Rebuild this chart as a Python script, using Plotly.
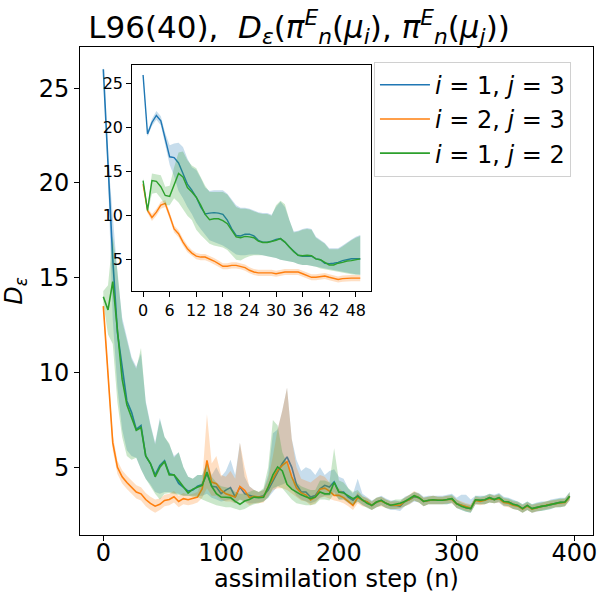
import plotly.graph_objects as go

# ================= inset data (every step, 0..49) =================
inset_steps = list(range(50))

blue_in = [26.0, 19.3, 20.6, 21.4, 20.8, 18.75, 16.7, 16.6, 16.0, 14.8,
           13.6, 12.9, 12.1, 11.0, 10.2, 10.3, 10.35, 10.3, 10.15, 9.5,
           8.5, 7.75, 7.7, 7.9, 7.9, 7.7, 7.2, 7.0, 7.0, 7.1,
           7.3, 7.4, 7.0, 6.45, 5.95, 5.5, 5.4, 5.4, 5.4, 5.1,
           5.0, 4.6, 4.55, 4.6, 4.7, 4.9, 5.0, 5.1, 5.1, 5.1]
blue_in_hi = [26.2, 19.6, 21.0, 21.9, 21.3, 19.4, 18.0, 18.2, 18.3, 17.8,
              16.5, 15.5, 15.2, 14.3, 13.2, 12.8, 12.9, 12.9, 12.9, 12.5,
              11.9, 11.2, 10.9, 10.9, 10.8, 10.6, 10.4, 10.3, 10.3, 10.1,
              11.0, 11.6, 11.0, 9.5, 8.2, 8.3, 8.5, 8.6, 8.5, 7.6,
              7.3, 6.9, 6.3, 6.3, 6.3, 6.6, 7.0, 7.3, 7.6, 7.8]
blue_in_lo = [25.8, 19.0, 20.2, 20.9, 20.3, 18.2, 15.8, 14.5, 12.8, 12.0,
              11.0, 10.2, 9.2, 8.5, 7.8, 7.2, 7.0, 6.8, 6.6, 6.3,
              5.9, 5.6, 5.5, 5.5, 5.6, 5.6, 5.6, 5.5, 5.4, 5.3,
              5.2, 5.0, 4.9, 4.8, 4.7, 4.5, 4.4, 4.4, 4.3, 4.2,
              4.1, 4.0, 3.9, 3.8, 3.7, 3.6, 3.5, 3.4, 3.35, 3.3]

orange_in = [13.6, 10.6, 9.8, 10.4, 11.2, 11.4, 10.0, 8.5, 7.95, 7.0,
             6.25, 5.75, 5.4, 5.3, 5.3, 5.1, 4.85, 4.55, 4.25, 4.25,
             4.35, 4.35, 4.25, 4.1, 3.8, 3.6, 3.5, 3.5, 3.5, 3.5,
             3.4, 3.5, 3.6, 3.6, 3.6, 3.6, 3.4, 3.2, 3.0, 3.0,
             3.1, 3.15, 3.0, 2.85, 2.75, 2.85, 2.9, 2.9, 2.9, 2.9]
orange_in_hi = [13.9, 10.9, 10.2, 10.8, 11.6, 11.8, 10.4, 8.9, 8.35, 7.4,
                6.65, 6.1, 5.75, 5.65, 5.65, 5.45, 5.2, 4.9, 4.6, 4.6,
                4.7, 4.7, 4.6, 4.45, 4.15, 3.95, 3.85, 3.85, 3.85, 3.85,
                3.75, 3.85, 3.95, 3.95, 3.95, 3.95, 3.75, 3.55, 3.35, 3.35,
                3.45, 3.5, 3.35, 3.2, 3.1, 3.2, 3.25, 3.25, 3.25, 3.25]
orange_in_lo = [13.3, 10.3, 9.4, 10.0, 10.8, 11.0, 9.6, 8.1, 7.55, 6.6,
                5.85, 5.4, 5.05, 4.95, 4.95, 4.75, 4.5, 4.2, 3.9, 3.9,
                4.0, 4.0, 3.9, 3.75, 3.45, 3.25, 3.15, 3.15, 3.15, 3.15,
                3.05, 3.15, 3.25, 3.25, 3.25, 3.25, 3.05, 2.85, 2.65, 2.65,
                2.75, 2.8, 2.65, 2.5, 2.4, 2.5, 2.55, 2.55, 2.55, 2.55]

green_in = [14.0, 10.6, 14.0, 13.9, 13.3, 12.3, 12.2, 13.6, 14.8, 14.4,
            13.2, 12.7, 12.1, 11.2, 10.15, 9.55, 9.65, 9.65, 9.45, 9.1,
            8.3, 7.6, 7.5, 7.65, 7.6, 7.5, 7.1, 6.95, 6.95, 7.05,
            7.2, 7.4, 7.0, 6.45, 5.9, 5.5, 5.45, 5.5, 5.45, 5.1,
            5.0, 4.7, 4.4, 4.4, 4.6, 4.7, 4.85, 4.9, 5.0, 5.1]
green_in_hi = [14.3, 10.9, 14.8, 14.7, 14.6, 13.3, 13.4, 15.5, 17.2, 17.3,
               16.3, 15.7, 15.4, 14.4, 13.4, 12.7, 12.7, 12.7, 12.7, 12.4,
               11.7, 11.0, 10.8, 10.8, 10.7, 10.5, 10.3, 10.2, 10.2, 10.0,
               11.2, 11.7, 11.3, 9.5, 8.1, 8.2, 8.4, 8.5, 8.4, 7.5,
               7.2, 6.8, 6.2, 6.2, 6.2, 6.5, 6.9, 7.2, 7.5, 7.7]
green_in_lo = [13.7, 10.3, 12.5, 12.6, 12.0, 11.2, 11.2, 12.0, 11.5, 10.8,
               10.0, 9.5, 8.4, 7.8, 7.3, 6.8, 6.6, 6.5, 6.4, 6.1,
               5.6, 5.0, 4.9, 5.2, 5.4, 5.5, 5.5, 5.5, 5.4, 5.3,
               5.2, 5.0, 4.9, 4.8, 4.7, 4.5, 4.4, 4.4, 4.3, 4.2,
               4.0, 3.9, 3.8, 3.7, 3.6, 3.5, 3.4, 3.35, 3.3, 3.3]

# ================= main-plot data (every 4th step, 0..396) =================
main_steps = list(range(0, 397, 4))

blue_main = [26.0, 20.8, 16.0, 12.1, 10.3, 8.5, 7.9, 7.0, 7.2, 5.6,
             5.2, 4.6, 5.1, 5.35, 4.66, 4.6, 4.15, 3.96, 3.75, 3.8,
             4.0, 4.1, 4.66, 4.0, 3.96, 3.61, 3.8, 3.93, 3.43, 3.96,
             3.61, 3.52, 3.45, 3.43, 3.5, 3.8, 4.3, 4.75, 5.2, 5.55,
             5.0, 4.1, 3.7, 3.7, 3.43, 3.52, 3.87, 4.05, 3.96, 4.23,
             3.7, 3.7, 3.43, 3.26, 3.52, 3.26, 3.17, 2.99, 3.17, 3.26,
             3.1, 2.99, 3.0, 2.95, 3.2, 3.3, 3.45, 3.4, 3.2, 3.26,
             3.29, 3.26, 3.26, 3.3, 3.35, 3.08, 3.0, 2.87, 2.82, 3.29,
             3.26, 3.29, 3.4, 3.3, 3.4, 3.2, 3.17, 3.05, 2.99, 2.82,
             2.99, 2.82, 2.9, 2.94, 2.98, 3.05, 3.1, 3.15, 3.17, 3.47]
blue_main_hi = [26.2, 21.3, 18.3, 15.2, 12.9, 11.9, 10.8, 10.3, 11.0, 8.5,
                7.3, 6.3, 7.6, 6.6, 6.2, 5.6, 5.8, 5.0, 4.5, 4.4,
                4.6, 4.6, 5.3, 4.6, 5.0, 4.5, 4.8, 5.4, 4.6, 6.3,
                4.5, 4.0, 3.8, 3.7, 3.8, 4.6, 6.8, 7.0, 8.0, 9.2,
                6.5, 5.4, 4.8, 5.0, 4.9, 4.6, 5.0, 4.6, 4.8, 4.9,
                4.5, 4.4, 3.9, 3.6, 4.4, 3.6, 3.4, 3.25, 3.4, 3.5,
                3.35, 3.25, 3.25, 3.2, 3.45, 3.55, 3.7, 3.65, 3.45, 3.5,
                3.5, 3.5, 3.5, 3.55, 3.6, 3.4, 3.55, 3.55, 3.3, 3.5,
                3.5, 3.5, 3.6, 3.55, 3.65, 3.45, 3.4, 3.3, 3.2, 3.05,
                3.2, 3.05, 3.15, 3.2, 3.2, 3.3, 3.35, 3.4, 3.4, 3.7]
blue_main_lo = [25.8, 20.3, 12.8, 9.2, 7.0, 5.9, 5.6, 5.5, 4.9, 4.4,
                4.1, 3.7, 3.6, 3.7, 3.7, 3.65, 3.6, 3.5, 3.5, 3.5,
                3.5, 3.5, 3.6, 3.4, 3.3, 3.2, 3.25, 3.3, 3.1, 3.3,
                3.2, 3.1, 3.1, 3.15, 3.2, 3.4, 3.7, 4.0, 4.1, 4.2,
                3.9, 3.5, 3.3, 3.2, 3.1, 3.2, 3.4, 3.5, 3.5, 3.7,
                3.3, 3.3, 3.1, 3.0, 3.2, 3.0, 2.9, 2.75, 2.9, 3.0,
                2.85, 2.75, 2.75, 2.7, 2.95, 3.05, 3.2, 3.15, 2.95, 3.05,
                3.05, 3.05, 3.05, 3.05, 3.1, 2.85, 2.75, 2.65, 2.6, 3.05,
                3.05, 3.05, 3.15, 3.1, 3.15, 2.95, 2.95, 2.8, 2.75, 2.6,
                2.75, 2.6, 2.65, 2.7, 2.75, 2.8, 2.9, 2.9, 2.95, 3.25]

orange_main = [13.5, 10.0, 6.3, 5.0, 4.5, 4.2, 3.95, 3.7, 3.6, 3.3,
               3.1, 2.95, 3.05, 3.25, 3.3, 3.45, 3.2, 3.35, 3.29, 3.35,
               3.43, 3.87, 5.37, 4.22, 4.14, 3.8, 3.6, 3.52, 3.43, 3.99,
               3.79, 3.4, 3.47, 3.43, 3.43, 3.96, 4.4, 4.84, 5.1, 5.3,
               4.5, 3.9, 3.65, 3.55, 3.28, 3.43, 3.85, 3.9, 3.75, 3.52,
               3.52, 3.4, 3.2, 2.99, 3.4, 3.26, 3.17, 2.99, 3.17, 3.22,
               3.1, 3.0, 3.0, 3.0, 3.2, 3.3, 3.5, 3.4, 3.2, 3.26,
               3.29, 3.26, 3.26, 3.3, 3.3, 3.08, 3.0, 2.9, 2.85, 3.25,
               3.2, 3.26, 3.35, 3.3, 3.35, 3.15, 3.1, 3.0, 2.95, 2.8,
               2.95, 2.8, 2.88, 2.92, 3.0, 3.05, 3.1, 3.12, 3.15, 3.45]
orange_main_hi = [13.8, 10.4, 6.7, 5.35, 4.85, 4.55, 4.3, 4.05, 3.95, 3.65,
                  3.45, 3.3, 3.35, 3.55, 3.6, 3.75, 3.5, 3.65, 3.55, 3.6,
                  3.7, 4.3, 7.8, 5.2, 5.6, 4.6, 4.5, 4.8, 4.4, 6.3,
                  5.0, 4.0, 3.8, 3.7, 3.8, 4.4, 5.6, 7.0, 8.0, 9.2,
                  6.5, 5.0, 4.4, 4.3, 4.2, 4.4, 4.6, 4.5, 4.2, 4.0,
                  3.9, 3.7, 3.4, 3.3, 3.7, 3.45, 3.4, 3.2, 3.4, 3.45,
                  3.3, 3.2, 3.2, 3.2, 3.4, 3.55, 3.75, 3.6, 3.4, 3.45,
                  3.5, 3.45, 3.45, 3.5, 3.5, 3.3, 3.2, 3.1, 3.05, 3.45,
                  3.4, 3.45, 3.55, 3.5, 3.55, 3.35, 3.3, 3.2, 3.15, 3.0,
                  3.15, 3.0, 3.08, 3.12, 3.2, 3.25, 3.3, 3.32, 3.35, 3.65]
orange_main_lo = [13.2, 9.6, 5.9, 4.65, 4.15, 3.85, 3.6, 3.35, 3.25, 2.95,
                  2.75, 2.6, 2.75, 2.95, 3.0, 3.15, 2.9, 3.05, 3.0, 3.05,
                  3.15, 3.4, 3.9, 3.5, 3.5, 3.3, 3.2, 3.2, 3.1, 3.3,
                  3.2, 3.0, 3.1, 3.1, 3.15, 3.5, 3.8, 3.9, 3.9, 3.8,
                  3.6, 3.4, 3.25, 3.2, 3.0, 3.1, 3.4, 3.45, 3.35, 3.25,
                  3.2, 3.1, 2.95, 2.75, 3.1, 2.95, 2.9, 2.75, 2.9, 2.95,
                  2.85, 2.8, 2.8, 2.8, 2.95, 3.05, 3.25, 3.15, 2.95, 3.05,
                  3.05, 3.05, 3.05, 3.1, 3.1, 2.85, 2.8, 2.7, 2.65, 3.05,
                  3.0, 3.05, 3.15, 3.1, 3.15, 2.95, 2.9, 2.8, 2.75, 2.6,
                  2.75, 2.6, 2.68, 2.72, 2.8, 2.85, 2.9, 2.92, 2.95, 3.25]

green_main = [14.0, 13.3, 14.8, 12.1, 9.65, 8.3, 7.6, 6.95, 7.1, 5.6,
              5.2, 4.5, 5.0, 5.3, 4.6, 4.6, 4.3, 4.0, 3.64, 3.85,
              3.93, 4.05, 4.75, 4.0, 3.61, 3.43, 3.42, 3.4, 3.2, 3.05,
              3.22, 3.3, 3.43, 3.4, 3.42, 3.96, 4.6, 5.02, 4.81, 4.1,
              3.85, 3.7, 3.55, 3.45, 3.35, 3.43, 3.7, 3.6, 3.6, 4.2,
              3.7, 3.65, 3.5, 3.35, 3.47, 3.26, 3.1, 2.99, 3.17, 3.26,
              3.1, 3.0, 3.05, 3.1, 3.2, 3.35, 3.5, 3.4, 3.2, 3.26,
              3.29, 3.26, 3.26, 3.3, 3.35, 3.08, 2.95, 2.87, 2.82, 3.29,
              3.26, 3.29, 3.4, 3.3, 3.4, 3.2, 3.17, 3.05, 2.99, 2.82,
              2.99, 2.82, 2.9, 2.94, 2.98, 3.05, 3.1, 3.15, 3.17, 3.47]
green_main_hi = [14.3, 14.6, 17.2, 15.4, 12.7, 11.7, 10.7, 10.2, 11.3, 8.4,
                 7.2, 6.2, 7.5, 6.6, 6.25, 5.5, 5.8, 5.0, 4.5, 4.4,
                 4.6, 4.6, 5.2, 4.5, 4.2, 4.0, 3.95, 3.9, 3.7, 3.6,
                 3.6, 3.7, 3.8, 3.7, 3.9, 5.0, 7.5, 7.2, 5.8, 5.2,
                 4.5, 4.2, 4.0, 3.9, 3.8, 3.8, 4.3, 4.3, 4.2, 6.0,
                 4.3, 4.2, 3.9, 3.7, 3.8, 3.5, 3.35, 3.2, 3.4, 3.45,
                 3.3, 3.2, 3.3, 3.3, 3.4, 3.55, 3.7, 3.6, 3.4, 3.45,
                 3.5, 3.45, 3.45, 3.5, 3.55, 3.3, 3.15, 3.05, 3.0, 3.5,
                 3.45, 3.5, 3.6, 3.5, 3.6, 3.4, 3.35, 3.25, 3.2, 3.05,
                 3.2, 3.05, 3.1, 3.15, 3.2, 3.25, 3.3, 3.35, 3.35, 3.7]
green_main_lo = [13.7, 12.0, 11.5, 8.4, 6.6, 5.6, 5.4, 5.5, 4.9, 4.4,
                 4.0, 3.6, 3.3, 3.6, 3.65, 3.6, 3.55, 3.5, 3.5, 3.45,
                 3.45, 3.3, 3.2, 3.1, 3.0, 2.95, 2.9, 2.9, 2.8, 2.73,
                 2.8, 2.95, 3.05, 3.1, 3.2, 3.4, 3.9, 4.0, 3.9, 3.6,
                 3.3, 3.1, 3.05, 3.0, 3.0, 3.05, 3.3, 3.3, 3.25, 3.6,
                 3.3, 3.3, 3.15, 3.0, 3.2, 3.0, 2.85, 2.75, 2.9, 3.0,
                 2.85, 2.8, 2.8, 2.85, 2.95, 3.1, 3.25, 3.15, 2.95, 3.05,
                 3.05, 3.05, 3.05, 3.05, 3.15, 2.85, 2.75, 2.65, 2.6, 3.05,
                 3.05, 3.05, 3.15, 3.1, 3.2, 3.0, 2.95, 2.8, 2.75, 2.6,
                 2.75, 2.6, 2.7, 2.7, 2.75, 2.8, 2.9, 2.9, 2.95, 3.3]

labels = ["<i>i</i> = 1, <i>j</i> = 3", "<i>i</i> = 2, <i>j</i> = 3", "<i>i</i> = 1, <i>j</i> = 2"]
line_colors = ["#1f77b4", "#ff7f0e", "#2ca02c"]
fill_colors = ["rgba(31,119,180,0.25)", "rgba(255,127,14,0.25)", "rgba(44,160,44,0.25)"]

main_series = [(blue_main, blue_main_lo, blue_main_hi),
               (orange_main, orange_main_lo, orange_main_hi),
               (green_main, green_main_lo, green_main_hi)]
inset_series = [(blue_in, blue_in_lo, blue_in_hi),
                (orange_in, orange_in_lo, orange_in_hi),
                (green_in, green_in_lo, green_in_hi)]
for s in main_series:
    assert all(len(a) == len(main_steps) for a in s)
for s in inset_series:
    assert all(len(a) == len(inset_steps) for a in s)

fig = go.Figure()


def add_band(xs, m, lo, hi, k, xa, ya, width, legend):
    fig.add_trace(go.Scatter(x=xs, y=hi, mode="lines", line=dict(width=0),
                             showlegend=False, hoverinfo="skip", xaxis=xa, yaxis=ya))
    fig.add_trace(go.Scatter(x=xs, y=lo, mode="lines", line=dict(width=0),
                             fill="tonexty", fillcolor=fill_colors[k],
                             showlegend=False, hoverinfo="skip", xaxis=xa, yaxis=ya))
    fig.add_trace(go.Scatter(x=xs, y=m, mode="lines",
                             line=dict(color=line_colors[k], width=width),
                             name=labels[k], showlegend=legend, legendgroup=f"g{k}",
                             xaxis=xa, yaxis=ya))


for k, (m, lo, hi) in enumerate(main_series):
    add_band(main_steps, m, lo, hi, k, "x", "y", 1.6, True)
for k, (m, lo, hi) in enumerate(inset_series):
    add_band(inset_steps, m, lo, hi, k, "x2", "y2", 1.4, False)

axis_common = dict(showgrid=False, zeroline=False, showline=True, linecolor="#000000",
                   linewidth=1, mirror=True, ticks="outside", ticklen=5, tickwidth=1,
                   tickcolor="#000000", automargin=False)

fig.update_layout(
    width=598, height=593,
    margin=dict(l=80, r=5, t=47, b=58),
    plot_bgcolor="white", paper_bgcolor="white",
    font=dict(family="DejaVu Sans", color="black"),
    title=dict(
        text="L96(40),  <i>D</i><sub><i>ε</i></sub>(<i>π</i><sup><i>E</i></sup><sub><i>n</i></sub>(<i>μ</i><sub><i>i</i></sub>), "
             "<i>π</i><sup><i>E</i></sup><sub><i>n</i></sub>(<i>μ</i><sub><i>j</i></sub>))",
        x=0.5, xanchor="center", y=0.955, yanchor="middle",
        font=dict(size=31, family="DejaVu Sans")),
    xaxis=dict(range=[-19.8, 415.8], tickvals=[0, 100, 200, 300, 400],
               tickfont=dict(size=24), domain=[0, 1], ticklabelstandoff=-9,
               **axis_common),
    yaxis=dict(range=[1.43, 27.17], tickvals=[5, 10, 15, 20, 25],
               tickfont=dict(size=24), domain=[0, 1],
               title=dict(text="<i>D</i><sub><i>ε</i></sub>", font=dict(size=24)),
               **axis_common),
    xaxis2=dict(range=[-2.45, 51.45], tickvals=[0, 6, 12, 18, 24, 30, 36, 42, 48],
                tickfont=dict(size=16), domain=[0.1018, 0.5675], anchor="y2",
                **axis_common),
    yaxis2=dict(range=[1.43, 27.17], tickvals=[5, 10, 15, 20, 25],
                tickfont=dict(size=16), domain=[0.4998, 0.9637], anchor="x2",
                **axis_common),
    legend=dict(x=0.573, y=0.97, xanchor="left", yanchor="top", traceorder="normal",
                bgcolor="rgba(255,255,255,0.85)", bordercolor="#d0d0d0", borderwidth=1,
                font=dict(size=24), tracegroupgap=10, itemwidth=50),
    showlegend=True,
    annotations=[dict(text="assimilation step (n)", xref="paper", yref="paper",
                      x=0.5, y=-0.091, xanchor="center", yanchor="middle",
                      showarrow=False, font=dict(size=24))],
)

fig.write_html("out.html")
